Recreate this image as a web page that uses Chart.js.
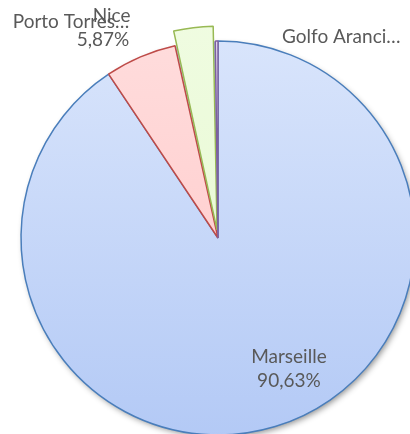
<!DOCTYPE html>
<html>
<head>
<meta charset="utf-8">
<script src="https://cdn.jsdelivr.net/npm/chart.js@4.4.1/dist/chart.umd.min.js"></script>
<style>
  html, body { margin: 0; padding: 0; background: #fff; overflow: hidden; }
  #wrap { position: relative; width: 410px; height: 434px; overflow: hidden; }
  #chartPuertos { position: absolute; left: 0; top: 0; }
</style>
</head>
<body>
<div id="wrap"><canvas id="chartPuertos" width="436" height="476"></canvas></div>
<script>
const puertos = ['Marseille', 'Porto Torres', 'Nice', 'Golfo Aranci'];
const porcentajes = [90.63, 5.87, 3.28, 0.22];
// texto que se ve en cada etiqueta
const etiquetas = [['Marseille', '90,63%'], ['Porto Torres…', '5,87%'], ['Nice'], ['Golfo Aranci…']];
// Chart.js mueve el sector ~0.45 * offset
const desplazados = [0, 0, 33, 0];

const bordes = ['#4a7ebb', '#be4b48', '#98b954', '#7d60a0'];
const degradados = [
    ['#dce7fc', '#b0c7f5'],
    ['#ffdede', '#ffc4c4'],
    ['#f0fce2', '#e4f8cc'],
    ['#e6def0', '#d2c4e4']
];

// posicion de cada etiqueta respecto al centro, en radios
const posEtiquetas = [
    { dx: 0.36, dy: 0.635, align: 'center', lh: 24 },
    { dx: -0.45, dy: -1.066, align: 'right', lh: 18 },
    { dx: -0.54, dy: -1.097, align: 'center', lh: 18 },
    { dx: 0.325, dy: -0.99, align: 'left', lh: 18 }
];

const sombra = {
    id: 'sombra',
    beforeDatasetsDraw(chart) {
        const arc = chart.getDatasetMeta(0).data[0];
        if (!arc) return;
        const ctx = chart.ctx;
        ctx.save();
        ctx.shadowColor = 'rgba(0,0,0,0.45)';
        ctx.shadowBlur = 6;
        ctx.shadowOffsetX = 2;
        ctx.shadowOffsetY = 3;
        ctx.fillStyle = '#b0c7f5';
        ctx.beginPath();
        ctx.arc(arc.x, arc.y, arc.outerRadius - 1, 0, Math.PI * 2);
        ctx.fill();
        ctx.restore();
    }
};

const textos = {
    id: 'textos',
    afterDraw(chart) {
        const arc = chart.getDatasetMeta(0).data[0];
        const ctx = chart.ctx;
        const r = arc.outerRadius;
        ctx.save();
        ctx.font = '19px Lato';
        ctx.fillStyle = '#595959';
        ctx.textBaseline = 'alphabetic';
        etiquetas.forEach((lineas, i) => {
            const p = posEtiquetas[i];
            const x = arc.x + p.dx * r;
            const y = arc.y + p.dy * r;
            ctx.textAlign = p.align;
            lineas.forEach((t, j) => ctx.fillText(t, x, y + j * p.lh));
        });
        ctx.restore();
    }
};

new Chart(document.getElementById('chartPuertos'), {
    type: 'pie',
    data: {
        labels: puertos,
        datasets: [{
            data: porcentajes,
            backgroundColor: function (context) {
                const area = context.chart.chartArea;
                if (!area) return degradados[context.dataIndex][0];
                const g = context.chart.ctx.createLinearGradient(0, area.top, 0, area.bottom);
                g.addColorStop(0, degradados[context.dataIndex][0]);
                g.addColorStop(1, degradados[context.dataIndex][1]);
                return g;
            },
            borderColor: bordes,
            borderWidth: 1.5,
            offset: desplazados
        }]
    },
    options: {
        responsive: false,
        animation: false,
        layout: { padding: 3.75 },
        plugins: {
            legend: { display: false },
            tooltip: { enabled: false }
        }
    },
    plugins: [sombra, textos]
});
</script>
</body>
</html>
